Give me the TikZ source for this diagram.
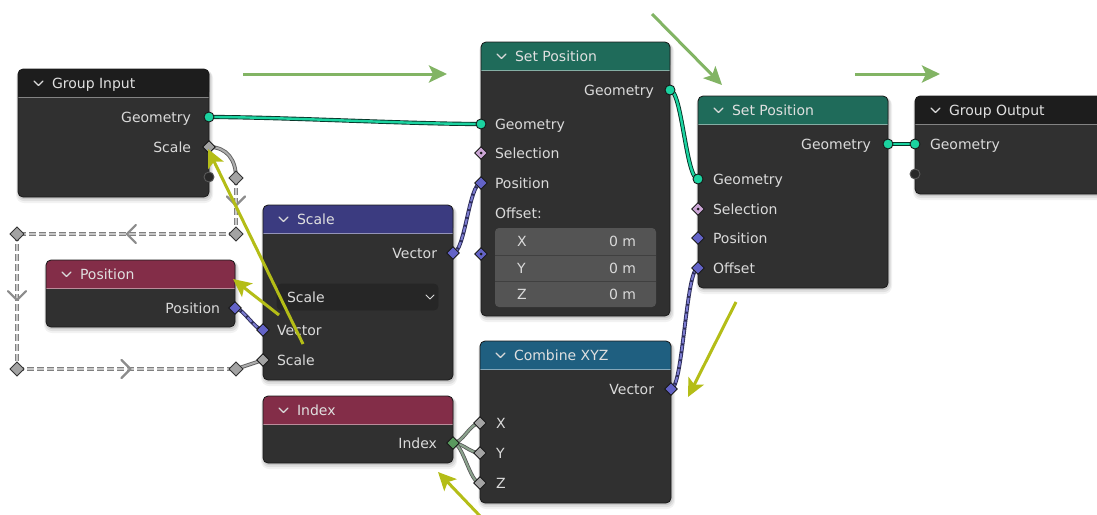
\documentclass[tikz,border=0pt]{standalone}
\usepackage{fontspec}
\setmainfont{DejaVu Sans}
\usetikzlibrary{shapes.geometric,arrows.meta,decorations.markings,calc}

\definecolor{nbody}{HTML}{303030}
\definecolor{nline}{HTML}{1A1A1A}
\definecolor{hdark}{HTML}{1D1D1D}
\definecolor{hgeo}{HTML}{1F6B5A}
\definecolor{hvec}{HTML}{3B3B80}
\definecolor{hinput}{HTML}{832D48}
\definecolor{hconv}{HTML}{1F5F80}
\definecolor{ltext}{HTML}{DADADA}
\definecolor{sgeo}{HTML}{1BD3A0}
\definecolor{sflt}{HTML}{A3A3A3}
\definecolor{svec}{HTML}{6363C7}
\definecolor{ssel}{HTML}{CCA6D6}
\definecolor{sint}{HTML}{5A9A5E}
\definecolor{semp}{HTML}{282828}
\definecolor{fieldrow}{HTML}{545454}
\definecolor{menubg}{HTML}{262626}
\definecolor{notegreen}{HTML}{82B464}
\definecolor{noteyellow}{HTML}{B4BD17}

\pgfdeclarelayer{linklayer}
\pgfdeclarelayer{socklayer}
\pgfdeclarelayer{notelayer}
\pgfsetlayers{main,linklayer,socklayer,notelayer}

\tikzset{
  nodebody/.style={rectangle,fill=nbody,rounded corners=5,inner sep=0,outer sep=0},
  nodeline/.style={draw=nline,line width=0.8},
  chev/.style={draw=ltext,line width=1.1,line cap=round,line join=round},
  txt/.style={inner sep=0,outer sep=0,text=ltext,font=\fontsize{14}{16}\selectfont,yshift=-3pt},
  lbll/.style={txt,anchor=mid west},
  lblr/.style={txt,anchor=mid east},
  title/.style={txt,anchor=mid west,text=white!88!black},
  sockbase/.style={inner sep=0,outer sep=0,draw=black!90,line width=0.9},
  sockgeo/.style={sockbase,circle,minimum size=10,fill=sgeo},
  sockemp/.style={sockbase,circle,minimum size=10,fill=semp,draw=black!65!white},
  sockdia/.style={sockbase,diamond,shape aspect=1,minimum size=12.5},
  sockflt/.style={sockdia,fill=sflt},
  sockvec/.style={sockdia,fill=svec},
  sockint/.style={sockdia,fill=sint},
  dotted socket/.style={path picture={\fill[black!90] (path picture bounding box.center) circle (1.5);}},
  socksel/.style={sockdia,fill=ssel,dotted socket},
  sockfield/.style={sockdia,fill=svec,dotted socket},
  reroute/.style={sockbase,diamond,shape aspect=1,minimum size=14,fill=sflt,draw=black!80},
  geolink/.style={draw=sgeo,line width=2.4,preaction={draw=black!75!sgeo,line width=4.2}},
  veclink/.style={draw=svec!85!white,line width=2,dash pattern=on 6 off 2,
    preaction={draw=black!55!svec,line width=3.8,solid}},
  fltlink/.style={draw=black!32,line width=2,preaction={draw=black!62,line width=3.8}},
  intlink/.style={draw=sint!45!gray!80!white,line width=2,preaction={draw=black!65,line width=3.6}},
  rrlink/.style={draw=black!22,line width=1.3,dash pattern=on 7 off 3,
    preaction={draw=black!50,line width=4,dash pattern=on 7 off 3}},
  flowmark/.style={postaction={decorate,decoration={markings,
    mark=at position #1 with {\draw[draw=black!45,line width=2.2,solid,line cap=round,line join=round] (-5,-9) -- (4,0) -- (-5,9);}}}},
  flowmark/.default=0.5,
  greenarrow/.style={draw=notegreen,line width=3,-{Stealth[length=18pt,width=17pt,inset=4pt]}},
  yellowarrow/.style={draw=noteyellow,line width=3,-{Stealth[length=18pt,width=17pt,inset=4pt]}},
}

% name, x, y, width, height, header colour, title
\newcommand\bnode[7]{%
  \fill[black,opacity=.05,rounded corners=8] (#2-2,#3+1) rectangle (#2+#4+4,#3+#5+6);
  \fill[black,opacity=.07,rounded corners=7] (#2-1,#3+1) rectangle (#2+#4+3,#3+#5+4);
  \fill[black,opacity=.10,rounded corners=6] (#2,#3+1) rectangle (#2+#4+1.5,#3+#5+2);
  \node[nodebody,minimum width=#4,minimum height=#5,anchor=north west] (#1) at (#2,#3) {};
  \fill[#6,rounded corners=5] (#2,#3) rectangle (#2+#4,#3+28);
  \fill[#6] (#2,#3+18) rectangle (#2+#4,#3+28);
  \draw[#6!55!white,line width=1] (#2,#3+28) -- (#2+#4,#3+28);
  \draw[nodeline,rounded corners=5] (#2,#3) rectangle (#2+#4,#3+#5);
  \draw[chev] (#2+16,#3+12) -- (#2+20.5,#3+16.5) -- (#2+25,#3+12);
  \node[title] (#1-title) at (#2+34,#3+13.5) {#7};
}

\begin{document}
\begin{tikzpicture}[x=1pt,y=-1pt]
\useasboundingbox[fill=white] (0,0) rectangle (1097,514);
\clip (0,0) rectangle (1097,514);

% ---- node frames
\bnode{gin}{18}{69}{191}{128}{hdark}{Group Input}
\bnode{sp1}{481}{42}{189}{274}{hgeo}{Set Position}
\bnode{sp2}{698}{96}{190}{192}{hgeo}{Set Position}
\bnode{gout}{915}{96}{200}{98}{hdark}{Group Output}
\bnode{vmath}{263}{205}{190}{175}{hvec}{Scale}
\bnode{pos}{46}{260}{189}{67}{hinput}{Position}
\bnode{idx}{263}{396}{190}{67}{hinput}{Index}
\bnode{cxyz}{480}{341}{191}{162}{hconv}{Combine XYZ}

% ---- Group Input
\node[lblr] (gin-l1) at (191,117) {Geometry};
\node[lblr] (gin-l2) at (191,147) {Scale};

% ---- first Set Position
\node[lblr] (sp1-l0) at (654,90) {Geometry};
\node[lbll] (sp1-l1) at (495,124) {Geometry};
\node[lbll] (sp1-l2) at (495,153) {Selection};
\node[lbll] (sp1-l3) at (495,183) {Position};
\node[lbll] (sp1-l4) at (495,213) {Offset:};
\fill[fieldrow,rounded corners=4] (495,228) rectangle (656,307);
\draw[black!75,line width=1] (495,255) -- (656,255) (495,281) -- (656,281);
\node[lbll] (sp1-fx) at (517,241) {X};
\node[lbll] (sp1-fy) at (517,268) {Y};
\node[lbll] (sp1-fz) at (517,294) {Z};
\node[lblr] (sp1-vx) at (636,241) {0 m};
\node[lblr] (sp1-vy) at (636,268) {0 m};
\node[lblr] (sp1-vz) at (636,294) {0 m};

% ---- second Set Position
\node[lblr] (sp2-l0) at (871,144) {Geometry};
\node[lbll] (sp2-l1) at (713,179) {Geometry};
\node[lbll] (sp2-l2) at (713,209) {Selection};
\node[lbll] (sp2-l3) at (713,238) {Position};
\node[lbll] (sp2-l4) at (713,268) {Offset};

% ---- Group Output
\node[lbll] (gout-l1) at (930,144) {Geometry};

% ---- Vector Math (Scale)
\node[lblr] (vm-l0) at (437,253) {Vector};
\fill[menubg,rounded corners=4] (277,284) rectangle (438,310);
\draw[black!85,rounded corners=4,line width=0.6] (277,284) rectangle (438,310);
\node[lbll] (vm-menu) at (287,297) {Scale};
\draw[chev,line width=1] (426,295) -- (430,299) -- (434,295);
\node[lbll] (vm-l1) at (277,330) {Vector};
\node[lbll] (vm-l2) at (277,360) {Scale};

% ---- Position / Index
\node[lblr] (pos-l0) at (220,308) {Position};
\node[lblr] (idx-l0) at (437,443) {Index};

% ---- Combine XYZ
\node[lblr] (cx-l0) at (654,389) {Vector};
\node[lbll] (cx-l1) at (496,423) {X};
\node[lbll] (cx-l2) at (496,453) {Y};
\node[lbll] (cx-l3) at (496,483) {Z};

% ---- sockets and reroutes
\begin{pgfonlayer}{socklayer}
\node[sockgeo] (gin-geo) at (209,117) {};
\node[sockflt] (gin-scale) at (209,147) {};
\node[sockemp] (gin-empty) at (209,177) {};

\node[sockgeo] (sp1-out) at (670,90) {};
\node[sockgeo] (sp1-geo) at (481,124) {};
\node[socksel] (sp1-sel) at (481,153) {};
\node[sockvec] (sp1-pos) at (481,183) {};
\node[sockfield] (sp1-off) at (481,254) {};

\node[sockgeo] (sp2-out) at (888,144) {};
\node[sockgeo] (sp2-geo) at (698,179) {};
\node[socksel] (sp2-sel) at (698,209) {};
\node[sockvec] (sp2-pos) at (698,238) {};
\node[sockvec] (sp2-off) at (698,268) {};

\node[sockgeo] (gout-geo) at (915,144) {};
\node[sockemp] (gout-empty) at (915,174) {};

\node[sockvec] (vm-out) at (453,253) {};
\node[sockvec] (vm-vec) at (263,330) {};
\node[sockflt] (vm-scale) at (263,360) {};

\node[sockvec] (pos-out) at (235,308) {};
\node[sockint] (idx-out) at (453,443) {};

\node[sockvec] (cx-out) at (671,389) {};
\node[sockflt] (cx-x) at (480,423) {};
\node[sockflt] (cx-y) at (480,453) {};
\node[sockflt] (cx-z) at (480,483) {};

\node[reroute] (r1) at (236,178) {};
\node[reroute] (r2) at (236,234) {};
\node[reroute] (r3) at (17,234) {};
\node[reroute] (r4) at (17,369) {};
\node[reroute] (r5) at (236,369) {};
\end{pgfonlayer}

% ---- links
\begin{pgfonlayer}{linklayer}
\draw[geolink] (gin-geo.center) .. controls +(70,0) and +(-70,0) .. (sp1-geo.center);
\draw[geolink] (sp1-out.center) .. controls +(12,0) and +(-12,0) .. (sp2-geo.center);
\draw[geolink] (sp2-out.center) -- (gout-geo.center);
\draw[veclink] (vm-out.center) .. controls +(12,0) and +(-12,0) .. (sp1-pos.center);
\draw[veclink] (cx-out.center) .. controls +(12,0) and +(-12,0) .. (sp2-off.center);
\draw[veclink] (pos-out.center) .. controls +(8,0) and +(-8,0) .. (vm-vec.center);
\draw[intlink] (idx-out.center) .. controls +(10,0) and +(-10,0) .. (cx-x.center);
\draw[intlink] (idx-out.center) .. controls +(10,0) and +(-10,0) .. (cx-y.center);
\draw[intlink] (idx-out.center) .. controls +(10,0) and +(-10,0) .. (cx-z.center);
\draw[fltlink] (gin-scale.center) .. controls +(18,0) and +(0,-18) .. (r1.center);
\draw[rrlink,flowmark=0.42] (r1.center) -- (r2.center);
\draw[rrlink,flowmark=0.48] (r2.center) -- (r3.center);
\draw[rrlink,flowmark=0.46] (r3.center) -- (r4.center);
\draw[rrlink,flowmark=0.5] (r4.center) -- (r5.center);
\draw[fltlink] (r5.center) -- (vm-scale.center);
\end{pgfonlayer}

% ---- annotation arrows
\begin{pgfonlayer}{notelayer}
\coordinate (g1a) at (243,74);  \coordinate (g1b) at (447,74);
\coordinate (g2a) at (652,14);  \coordinate (g2b) at (722,85);
\coordinate (g3a) at (855,74);  \coordinate (g3b) at (940,74);
\coordinate (y1a) at (303,344); \coordinate (y1b) at (208,149);
\coordinate (y2a) at (279,315); \coordinate (y2b) at (233,279);
\coordinate (y3a) at (736,302); \coordinate (y3b) at (688,397);
\coordinate (y4a) at (480,516); \coordinate (y4b) at (438,472);
\draw[greenarrow] (g1a) -- (g1b);
\draw[greenarrow] (g2a) -- (g2b);
\draw[greenarrow] (g3a) -- (g3b);
\draw[yellowarrow] (y1a) -- (y1b);
\draw[yellowarrow] (y2a) -- (y2b);
\draw[yellowarrow] (y3a) -- (y3b);
\draw[yellowarrow] (y4a) -- (y4b);
\end{pgfonlayer}
\end{tikzpicture}
\end{document}
